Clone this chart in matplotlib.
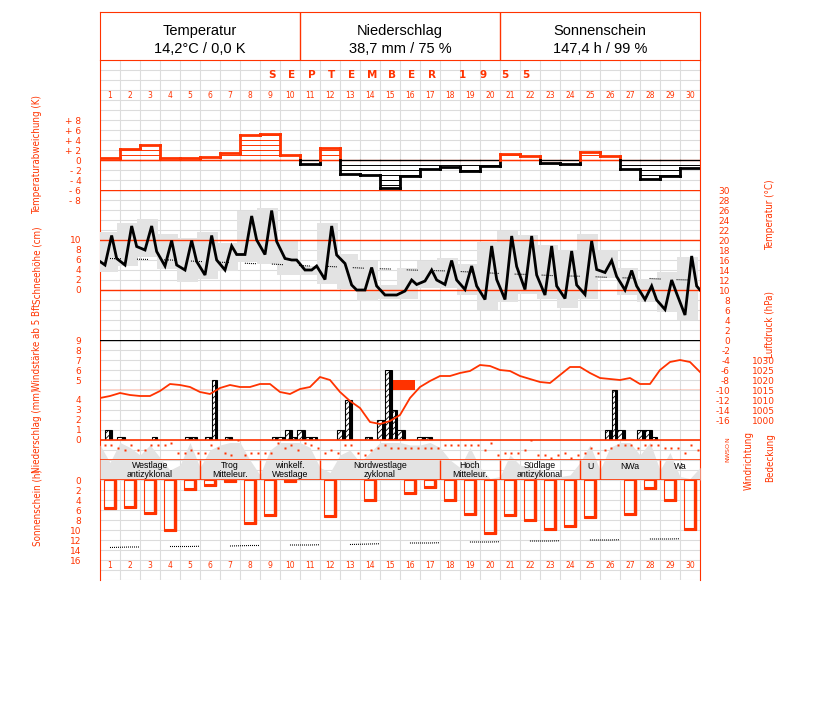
import os
import numpy as np
import matplotlib
matplotlib.use("Agg")
from matplotlib import pyplot as plt
from matplotlib import font_manager as fm
from matplotlib.patches import Rectangle

plt.rcParams["font.family"] = ["Liberation Sans", "DejaVu Sans"]
plt.rcParams["lines.scale_dashes"] = False
plt.rcParams["hatch.linewidth"] = 0.6

W, H = 827, 702
RED = "#ff3300"
GRID = "#dcdcdc"
SHADE = "#e3e3e3"

# ---- data --------------------------------------------------------------
DAYS = list(range(1, 31))
HEADER = [("Temperatur", "14,2°C / 0,0 K"),
          ("Niederschlag", "38,7 mm / 75 %"),
          ("Sonnenschein", "147,4 h / 99 %")]

# daily deviation from normal (K)
ANOMALY = [0.5, 2.3, 3.1, 0.4, 0.5, 0.7, 1.5, 4.9, 5.1, 1.1,
           -0.7, 2.5, -2.8, -3.0, -5.6, -3.2, -1.7, -1.3, -2.1, -1.1,
           1.3, 0.9, -0.5, -0.8, 1.7, 0.9, -1.7, -3.8, -3.2, -1.5]

# temperature at the observation hours (°C)
OBS_HOURS = [6, 14, 20]
T_FIRST, T_LAST = 15.7, 10.0
T_OBS = [[15.0, 20.9, 16.3], [15.0, 22.8, 18.7], [18.0, 22.8, 17.7],
         [14.8, 19.9, 15.0], [14.0, 19.9, 15.7], [13.0, 20.9, 16.0],
         [14.0, 18.8, 17.1], [17.1, 24.8, 20.0], [17.1, 25.9, 19.7],
         [16.3, 16.0, 16.0], [14.0, 14.0, 14.8], [12.1, 22.8, 17.0],
         [15.3, 11.0, 10.0], [10.0, 14.5, 10.8], [9.0, 9.0, 9.0],
         [9.8, 12.0, 11.1], [11.8, 14.0, 12.0], [11.1, 15.9, 12.0],
         [10.1, 14.8, 10.8], [8.1, 18.8, 12.1], [8.1, 20.8, 14.7],
         [10.1, 20.8, 13.0], [9.0, 18.8, 10.8], [8.3, 17.8, 11.0],
         [9.1, 19.8, 14.1], [13.5, 15.9, 12.7], [10.0, 13.9, 10.8],
         [8.1, 10.8, 8.0], [6.1, 12.0, 9.3], [5.0, 16.8, 10.8]]
T_MIN = [13.7, 14.8, 16.7, 14.2, 11.7, 12.2, 13.8, 15.6, 15.2, 13.1,
         13.1, 11.2, 10.2, 7.9, 8.3, 8.3, 10.5, 10.5, 9.0, 6.0,
         7.7, 9.3, 8.3, 6.5, 8.3, 12.5, 9.0, 7.7, 5.7, 4.0]
T_MAX = [21.7, 23.5, 24.2, 21.2, 20.5, 21.7, 19.5, 25.9, 26.5, 19.9,
         14.8, 23.5, 17.2, 15.9, 11.0, 14.5, 15.9, 16.5, 15.2, 19.7,
         21.9, 21.0, 19.0, 18.0, 21.2, 18.0, 14.5, 12.3, 13.7, 16.7]
T_NORMAL = [16.3, 16.2, 16.1, 16.0, 15.8, 15.6, 15.5, 15.3, 15.2, 15.0,
            14.8, 14.7, 14.5, 14.3, 14.2, 14.0, 13.9, 13.8, 13.6, 13.4,
            13.2, 13.1, 12.9, 12.8, 12.7, 12.5, 12.4, 12.3, 12.1, 12.0]

# wind force from 5 Bft: (start day, hour, end day, hour, Bft)
STRONG_WIND = [(15, 16, 16, 18, 5)]

# air pressure (hPa) at 00 and 12 h, 1st 00 h to 31st 00 h
PRESSURE = [1011.0, 1012.0, 1013.5, 1012.5, 1012.0, 1012.0, 1014.5, 1018.0,
            1017.5, 1016.5, 1014.0, 1013.0, 1016.0, 1017.5, 1016.5, 1016.5,
            1018.0, 1018.0, 1014.0, 1013.0, 1015.5, 1016.5, 1021.5, 1020.0,
            1014.0, 1009.5, 1006.0, 999.0, 998.0, 999.5, 1002.5, 1011.0,
            1016.5, 1019.5, 1022.0, 1022.0, 1023.5, 1024.5, 1027.5, 1027.0,
            1025.0, 1024.5, 1022.0, 1020.5, 1019.0, 1018.5, 1022.5, 1026.5,
            1026.5, 1023.5, 1021.0, 1020.5, 1020.0, 1021.0, 1018.0, 1018.0,
            1025.0, 1029.0, 1030.0, 1029.0, 1024.0]

# precipitation per observation period: (day, period 0..2, mm)
PERIOD_EDGES = [0.25, 0.585, 0.87, 1.25]
PRECIP = [(1, 0, 1.0), (1, 2, 0.3), (3, 1, 0.3), (5, 0, 0.3), (5, 1, 0.3),
          (6, 0, 0.3), (6, 1, 6.0), (7, 0, 0.3), (9, 1, 0.3), (9, 2, 0.3),
          (10, 0, 1.0), (10, 1, 0.3), (10, 2, 1.0), (11, 0, 0.3), (11, 1, 0.3),
          (12, 2, 1.0), (13, 0, 4.0), (14, 0, 0.3), (14, 2, 2.0), (15, 0, 7.0),
          (15, 1, 3.0), (15, 2, 1.0), (16, 2, 0.3), (17, 0, 0.3), (26, 0, 1.0),
          (26, 1, 5.0), (26, 2, 1.0), (27, 2, 1.0), (28, 0, 1.0), (28, 1, 0.3)]

# wind direction at the three observations
WIND_HOURS = [6, 13, 21]
WIND_DIR = ["E", "E", "SE", "S", "E", "S", "S", "E", "E", "E", "NE", "SW",
            "SW", "S", "SW", "SW", "E", "SE", "SW", "W", "N", "W", "SW", "SW",
            "SW", "SW", "NE", "SE", "E", "S", "NE", "E", "SE", "SW", "S", "SW",
            "E", "E", "SW", "W", "S", "SE", "E", "SE", "SE", "SE", "SE", "SE",
            "SE", "SE", "SE", "E", "E", "E", "E", "E", "E", "S", "NE", "W",
            "SW", "SW", "SW", "S", "N", "W", "W", "NW", "W", "SW", "NW", "W",
            "SW", "SE", "SW", "S", "SE", "E", "E", "E", "SE", "E", "E", "E",
            "SE", "SE", "SE", "SW", "E", "S"]
COMPASS = {"N": 0, "NE": 45, "E": 90, "SE": 135, "S": 180, "SW": 225,
           "W": 270, "NW": 315}

# cloud cover (octas) at 00 and 12 h
CLOUD = [7.0, 3.5, 7.5, 6.5, 5.0, 7.0, 4.5, 2.0, 3.0, 7.5, 2.5, 6.0, 7.0,
         7.5, 7.5, 4.0, 1.0, 6.0, 7.5, 7.5, 7.5, 6.5, 2.5, 1.5, 5.0, 6.0,
         3.5, 5.5, 7.5, 7.5, 7.5, 7.0, 7.0, 7.5, 6.5, 4.0, 2.5, 6.5, 2.5,
         0.3, 0.7, 5.0, 3.0, 2.5, 2.0, 1.3, 0.7, 1.0, 3.5, 7.0, 2.0, 6.5,
         7.5, 7.5, 5.0, 7.5, 2.0, 5.5, 0.7, 0.3, 2.5]

# weather types: (label, first day, last day)
WEATHER_TYPES = [("Westlage\nantizyklonal", 1, 5), ("Trog\nMitteleur.", 6, 8),
                 ("winkelf.\nWestlage", 9, 11), ("Nordwestlage\nzyklonal", 12, 17),
                 ("Hoch\nMitteleur.", 18, 20), ("Südlage\nantizyklonal", 21, 24),
                 ("U", 25, 25), ("NWa", 26, 28), ("Wa", 29, 30)]

# sunshine duration (h) and astronomically possible duration (h)
SUN = [5.8, 5.5, 6.7, 10.2, 1.9, 1.2, 0.3, 8.7, 7.1, 0.3,
       0.0, 7.3, 0.0, 4.2, 0.0, 2.7, 1.5, 4.2, 7.0, 10.7,
       7.1, 8.2, 9.9, 9.3, 7.5, 0.0, 6.9, 1.7, 4.2, 10.0]
SUN_POSSIBLE = [13.5, 13.4, 13.4, 13.3, 13.3, 13.2, 13.2, 13.1, 13.1, 13.0,
                13.0, 12.9, 12.9, 12.8, 12.7, 12.6, 12.6, 12.5, 12.4, 12.4,
                12.3, 12.2, 12.2, 12.1, 12.0, 12.0, 11.9, 11.8, 11.8, 11.7]


# ---- layout helpers ------------------------------------------------------
def find_narrow_font():
    # a condensed face for the rotated axis titles, if one is installed
    prefs = ["liberationsansnarrow-regular", "dejavusanscondensed.",
             "robotocondensed-regular", "opensans_condensed-regular"]
    files = [f.fname for f in fm.fontManager.ttflist]
    for p in prefs:
        for fn in files:
            if os.path.basename(fn).lower().startswith(p):
                return fn
    return None


NARROW_FILE = find_narrow_font()
if NARROW_FILE:
    TITLE_FONT = fm.FontProperties(fname=NARROW_FILE, size=7.0)
else:
    TITLE_FONT = fm.FontProperties(family="Liberation Sans", size=6.0)

fig = plt.figure(figsize=(W / 100, H / 100), dpi=100)


def panel(top, bottom, ylim, z=1, xlim=(0, 30)):
    ax = fig.add_axes([100 / W, 1 - bottom / H, 600 / W, (bottom - top) / H],
                      zorder=z)
    ax.patch.set_visible(False)
    ax.set_xlim(*xlim)
    ax.set_ylim(*ylim)
    for s in ax.spines.values():
        s.set_visible(False)
    ax.set_xticks([])
    ax.set_yticks([])
    ax.tick_params(length=0, labelsize=6.5, labelcolor=RED)
    return ax


def left_ticks(ax, values, labels=None):
    ax.set_yticks(values)
    ax.set_yticklabels(labels if labels else [str(v) for v in values],
                       family="DejaVu Sans")
    ax.tick_params(axis="y", pad=13.5)


def right_ticks(ax, values, pad_px, labels=None):
    ax.yaxis.set_ticks_position("right")
    ax.set_yticks(values)
    ax.set_yticklabels(labels if labels else [str(v) for v in values],
                       family="DejaVu Sans", ha="right")
    ax.tick_params(axis="y", pad=pad_px * 0.72, labelright=True,
                   labelleft=False)


def side_label(x, y, s):
    fig.text(x / W, 1 - y / H, s, rotation=90, color=RED,
             fontproperties=TITLE_FONT, ha="center", va="center")


def dotted(n_dots, gap_px):
    return (0, [0.72, 0.72] * (n_dots - 1) + [0.72, 0.72 + gap_px * 0.72])


# ---- grid and frame -------------------------------------------------------
base = panel(60, 580, (52, 0), z=0)
base.set_xticks(range(31))
base.set_yticks(range(53))
base.tick_params(labelleft=False, labelbottom=False, length=0)
base.grid(True, color=GRID, lw=0.8)
for side in ("left", "right"):
    base.spines[side].set_visible(True)
    base.spines[side].set_color(RED)

for d in DAYS:
    for row in (3.5, 50.5):
        base.text(d - 0.5, row, str(d), color=RED, fontsize=5.5,
                  family="DejaVu Sans", ha="center", va="center")
for k, ch in enumerate("SEPTEMBER"):
    base.text(8.6 + k, 1.5, ch, color=RED, fontsize=7.5, weight="bold",
              family="DejaVu Sans", ha="center", va="center")
for k, ch in enumerate("1955"):
    base.text(18.1 + k * 1.07, 1.5, ch, color=RED, fontsize=7.5, weight="bold",
              family="DejaVu Sans", ha="center", va="center")

head = panel(12, 60, (1, 0), z=2, xlim=(0, 3))
for s in head.spines.values():
    s.set_visible(True)
    s.set_color(RED)
head.vlines([1, 2], 0, 1, color=RED, lw=1)
for k, (title, value) in enumerate(HEADER):
    head.text(k + 0.5, 0.40, title, fontsize=10.5, ha="center", va="center")
    head.text(k + 0.5, 0.77, value, fontsize=10.5, ha="center", va="center")

# ---- temperature deviation -----------------------------------------------
anom = panel(110, 210, (-10, 10), z=2)
left_ticks(anom, [8, 6, 4, 2, 0, -2, -4, -6, -8],
           ["+ 8", "+ 6", "+ 4", "+ 2", "0", "- 2", "- 4", "- 6", "- 8"])
anom.axhline(0, color=RED, lw=0.9)
for i, v in enumerate(ANOMALY):
    c = RED if v > 0 else "black"
    sign = 1 if v > 0 else -1
    anom.plot([i, i + 1], [0, 0], color=c, lw=0.9)
    for k in range(1, int(abs(v)) + 1):
        anom.plot([i, i + 1], [sign * k] * 2, color=c, lw=0.7)
    anom.plot([i, i + 1], [v, v], color=c, lw=2.0, solid_capstyle="projecting")
    if i + 1 < len(ANOMALY):
        nxt = ANOMALY[i + 1]
        if (v > 0) == (nxt > 0):
            anom.plot([i + 1, i + 1], [v, nxt], color=c, lw=2.0)
        else:
            anom.plot([i + 1, i + 1], [0, v], color=c, lw=2.0)
            anom.plot([i + 1, i + 1], [0, nxt], color=RED if nxt > 0 else "black",
                      lw=2.0)

# ---- temperature ---------------------------------------------------------
temp = panel(190, 420, (-16, 30), z=2)
right_ticks(temp, list(range(30, -17, -2)), 30)
for y in (30, 20, 10):
    temp.axhline(y, color=RED, lw=1, zorder=2)
for i in range(30):
    temp.add_patch(Rectangle((i - 1 / 6, T_MIN[i]), 1.05, T_MAX[i] - T_MIN[i],
                             facecolor=SHADE, lw=0, zorder=1))
tx = [0.0] + [i + h / 24 for i in range(30) for h in OBS_HOURS] + [30.0]
ty = [T_FIRST] + [t for day in T_OBS for t in day] + [T_LAST]
temp.plot(np.array(DAYS) - 0.5, T_NORMAL, color="black", lw=0.8,
          ls=dotted(6, 15), zorder=3)
temp.plot(tx, ty, color="black", lw=2.0, zorder=4, solid_joinstyle="miter")

snow = panel(240, 290, (0, 10), z=2)
left_ticks(snow, [10, 8, 6, 4, 2, 0])

# ---- wind force, pressure, precipitation ----------------------------------
wind = panel(340, 390, (4, 9), z=3)
left_ticks(wind, [9, 8, 7, 6, 5])
wind.axhline(9, color="black", lw=1)
wind.axhline(4, color=RED, lw=1)
for d0, h0, d1, h1, bft in STRONG_WIND:
    x0 = d0 - 1 + h0 / 24
    x1 = d1 - 1 + h1 / 24
    wind.add_patch(Rectangle((x0, 4), x1 - x0, bft - 4, facecolor=RED, lw=0))

pres = panel(340, 440, (990, 1040), z=4)
right_ticks(pres, [1030, 1025, 1020, 1015, 1010, 1005, 1000], 75)
pres.plot(np.arange(len(PRESSURE)) / 2, PRESSURE, color=RED, lw=1.3)

prec = panel(370, 440, (0, 7), z=3)
left_ticks(prec, [4, 3, 2, 1, 0])
prec.axhline(0, color=RED, lw=1.2, zorder=4)
SHADOW = 0.135
for day, per, mm in PRECIP:
    x0 = day - 1 + PERIOD_EDGES[per]
    x1 = day - 1 + PERIOD_EDGES[per + 1]
    prec.add_patch(Rectangle((x0, 0), x1 - x0, mm, facecolor="white",
                             edgecolor="black", hatch="//////", lw=0.8, zorder=2))
    prec.add_patch(Rectangle((x1 - SHADOW, 0), SHADOW, mm, facecolor="black",
                             lw=0, zorder=3))

# ---- cloud cover, wind direction, weather type ----------------------------
cloud = panel(440, 480, (0, 8), z=1)
cloud.fill_between(np.arange(len(CLOUD)) / 2, 0, CLOUD, color=SHADE, lw=0)

wdir = panel(440, 460, (360, 0), z=3)
wdir.axhline(0, color=RED, lw=1.2)
wdir.axhline(360, color=RED, lw=1.2)
wx = [i + h / 24 for i in range(30) for h in WIND_HOURS]
wy = [COMPASS[c] for c in WIND_DIR]
wdir.plot(wx, wy, ls="none", marker="s", ms=2.0, mfc=RED, mec="none")
wdir.yaxis.set_ticks_position("right")
wdir.set_yticks([0, 90, 180, 270, 360])
wdir.set_yticklabels(["N", "O", "S", "W", "N"], family="DejaVu Sans",
                     rotation=90, ha="center", va="center", fontsize=4.5)
wdir.tick_params(axis="y", pad=28 * 0.72, labelright=True, labelleft=False)

strip = panel(460, 480, (1, 0), z=4)
strip.axhline(1, color=RED, lw=1.2)
for label, d0, d1 in WEATHER_TYPES:
    if d1 < 30:
        strip.vlines(d1, 0, 1, color=RED, lw=1)
    lines = label.split("\n")
    strip.text((d0 - 1 + d1) / 2, 0.5 if len(lines) > 1 else 0.32, label,
               fontsize=6.3, ha="center", va="center", linespacing=0.95)

# ---- sunshine -------------------------------------------------------------
sun = panel(480, 560, (16, 0), z=2)
left_ticks(sun, list(range(0, 17, 2)))
for i, s in enumerate(SUN):
    if s <= 0:
        continue
    sun.add_patch(Rectangle((i + 0.215, 0), 0.58, s, facecolor="none",
                            edgecolor=RED, lw=0.8))
    sun.plot([i + 0.75, i + 0.75], [0, s], color=RED, lw=2.4,
             solid_capstyle="butt")
    sun.plot([i + 0.215, i + 0.835], [s - 0.15, s - 0.15], color=RED, lw=1.5,
             solid_capstyle="butt")
sun.plot(np.array(DAYS) - 0.5, SUN_POSSIBLE, color="black", lw=0.8,
         ls=dotted(15, 30))

# ---- axis titles -----------------------------------------------------------
side_label(37, 155, "Temperaturabweichung (K)")
side_label(37, 265, "Schneehöhe (cm)")
side_label(37, 347, "Windstärke ab 5 Bft")
side_label(37, 431, "Niederschlag (mm)")
side_label(37, 508, "Sonnenschein (h)")
side_label(770, 215, "Temperatur (°C)")
side_label(770, 324, "Luftdruck (hPa)")
side_label(749, 461, "Windrichtung")
side_label(770, 458, "Bedeckung")

fig.savefig("out.png", dpi=100, facecolor="white")
